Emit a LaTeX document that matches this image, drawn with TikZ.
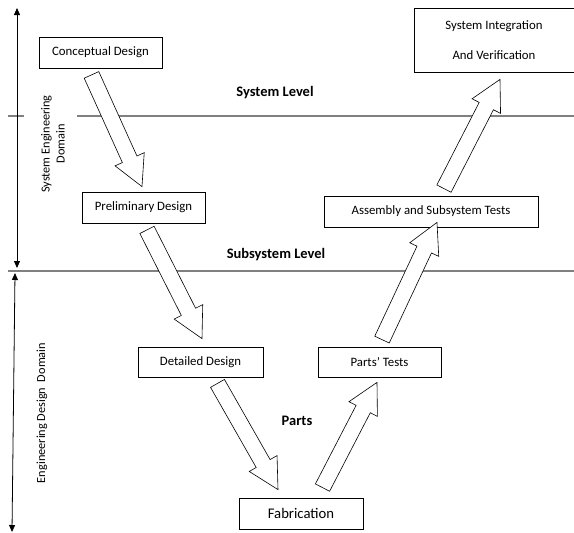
\documentclass[tikz,border=0pt]{standalone}
\usepackage{fontspec}
\setmainfont{Carlito}
\usetikzlibrary{arrows.meta}
\usetikzlibrary{calc}
\newcommand{\vstep}[2]{%
\coordinate (vneck) at ($(#2)!30pt!(#1)$);
\draw[hollow] ($(#1)!8pt!90:(#2)$) -- ($(vneck)!8pt!90:(#2)$)
 -- ($(vneck)!16pt!90:(#2)$) -- (#2) -- ($(vneck)!16pt!-90:(#2)$)
 -- ($(vneck)!8pt!-90:(#2)$) -- ($(#1)!8pt!-90:(#2)$) -- cycle;}

\begin{document}
\begin{tikzpicture}[x=1pt,y=-1pt,
stage/.style={draw,line width=0.8pt,inner sep=0pt,minimum height=31pt,font=\fontsize{12.8}{15}\selectfont},
levelname/.style={font=\bfseries\fontsize{14.5}{17}\selectfont},
domainname/.style={rotate=90,align=center,font=\fontsize{12.3}{15}\selectfont},
divider/.style={draw=gray,line width=1.5pt},
hollow/.style={draw,line width=0.6pt,fill=white,line join=miter}]
\useasboundingbox (0,0) rectangle (574,533);
% level lines
\draw[divider] (8,116) -- (24,116);
\draw[divider] (77,116) -- (574,116);
\draw[divider] (8,271) -- (574,271);
% stages
\node[stage,minimum width=123pt] (cd) at (100.5,52.5) {Conceptual Design};
\node[stage,minimum width=123pt] (pd) at (143.5,207.5) {Preliminary Design};
\node[stage,minimum width=125pt,minimum height=30pt] (dd) at (200.5,362) {Detailed Design};
\node[stage,minimum width=124pt,font=\fontsize{14.7}{17}\selectfont] (fab) at (301,513.5) {Fabrication};
\node[stage,minimum width=123pt,minimum height=30pt] (pt) at (379.5,362) {Parts' Tests};
\node[stage,minimum width=214pt] (asm) at (431,211.5) {Assembly and Subsystem Tests};
\node[stage,minimum width=160pt,minimum height=64pt,align=center] (si) at (494,40)
  {System Integration\\[15pt]And Verification};
% levels and domains
\node[levelname] (sysl) at (275,93) {System Level};
\node[levelname] (subl) at (276,255) {Subsystem Level};
\node[levelname] (parts) at (297,421) {Parts};
\node[domainname] (sed) at (53,144) {System Engineering\\Domain};
\node[domainname] (edd) at (42,413) {Engineering Design\ \ Domain};
\coordinate (sed-top) at (17,8);
\coordinate (sed-bot) at (17,268);
\coordinate (edd-top) at (15,273);
\coordinate (edd-bot) at (12,532);
\draw[line width=0.8pt,{Triangle[length=7pt,width=6pt]}-{Triangle[length=7pt,width=6pt]}] (sed-top) -- (sed-bot);
\draw[line width=0.8pt,{Triangle[length=7pt,width=6pt]}-{Triangle[length=7pt,width=6pt]}] (edd-top) -- (edd-bot);
% block arrows
\vstep{$([shift={(-9,6.5)}]cd.south)$}{$([shift={(-1.5,-5)}]pd.north)$}
\vstep{$([shift={(3.5,6.5)}]pd.south)$}{$([shift={(1.5,-8)}]dd.north)$}
\vstep{$([shift={(17,6)}]dd.south)$}{$([shift={(-23,-8)}]fab.north)$}
\vstep{$([shift={(21.5,-10)}]fab.north)$}{$([shift={(-2.5,5)}]pt.south)$}
\vstep{$([shift={(2.5,-7)}]pt.north)$}{$([shift={(6,-5)}]asm.south)$}
\vstep{$([shift={(13,-7)}]asm.north)$}{$([shift={(6,7)}]si.south)$}
\end{tikzpicture}
\end{document}
